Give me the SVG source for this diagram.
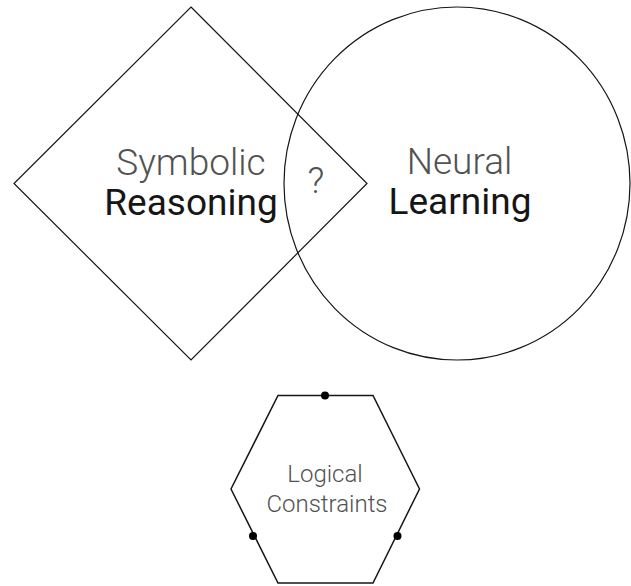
<svg xmlns="http://www.w3.org/2000/svg" width="631" height="586" viewBox="0 0 631 586">
<style>
.shape{fill:none;stroke:#161616;stroke-width:1.2}
.hex{fill:none;stroke:#161616;stroke-width:1.5}
.light{font-family:Roboto,"Open Sans",sans-serif;font-weight:300;fill:#525252;text-anchor:middle}
.bold{font-family:Roboto,"Open Sans",sans-serif;font-weight:400;fill:#161616;text-anchor:middle}
.big{font-size:37px}
.small{font-size:24px}
.dot{fill:#000}
</style>
<rect width="631" height="586" fill="#fff"/>
<g id="symbolic">
<polygon class="shape" points="191,7 367,183.5 191,360 14,183.5"/>
<text class="light big" x="191" y="175">Symbolic</text>
<text class="bold big" x="191" y="215">Reasoning</text>
</g>
<g id="neural">
<ellipse class="shape" cx="457" cy="183.5" rx="173" ry="176.5"/>
<text class="light big" x="459.5" y="174">Neural</text>
<text class="bold big" x="460" y="214">Learning</text>
</g>
<g id="overlap">
<text class="light big" x="316" y="193">?</text>
</g>
<g id="constraints">
<polygon class="hex" points="278,395.5 373,395.5 419.5,489 373,583 278,583 231,489"/>
<circle class="dot" cx="325" cy="395.5" r="4"/>
<circle class="dot" cx="253" cy="536" r="4"/>
<circle class="dot" cx="397.5" cy="536" r="4"/>
<text class="light small" x="325" y="482">Logical</text>
<text class="light small" x="327" y="512">Constraints</text>
</g>
<g id="connectors"/>
</svg>
